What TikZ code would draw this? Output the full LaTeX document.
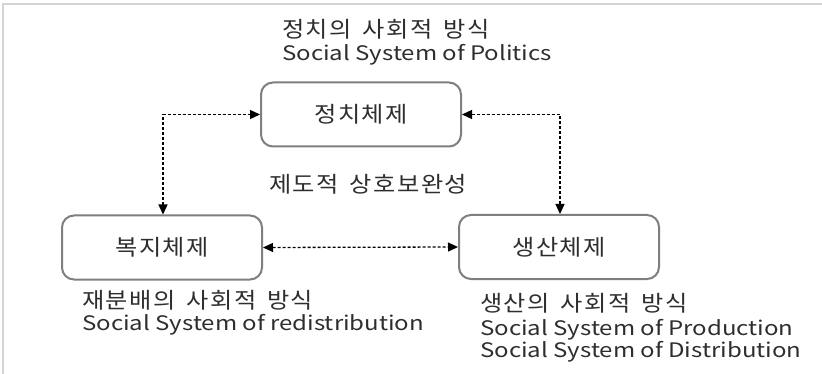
\documentclass[tikz,border=0pt]{standalone}
\usepackage{fontspec}
\usepackage{graphicx}
\setmainfont{Noto Sans CJK KR}
\newfontfamily\kr[LetterSpace=6,WordSpace=1.6]{Noto Sans CJK KR}
\newcommand{\widetext}[1]{\scalebox{1.2}[1]{#1}}
\newcommand{\krtext}[1]{\scalebox{1.1}[1]{#1}}
\usetikzlibrary{arrows.meta}
\definecolor{txt}{HTML}{2E2E2E}
\definecolor{boxline}{HTML}{7F7F7F}
\definecolor{frameline}{HTML}{D4D4D4}
\tikzset{
  sysbox/.style={draw=boxline, line width=2pt, rounded corners=12pt, minimum width=200pt, minimum height=64pt, inner sep=0pt, text=txt, font=\kr\fontsize{22pt}{24pt}\selectfont},
  lbl/.style={anchor=base west, inner sep=0pt, text=txt, font=\fontsize{20pt}{24pt}\selectfont},
  krlbl/.style={lbl, font=\kr\fontsize{22pt}{24pt}\selectfont},
  link/.style={densely dashed, line width=1.3pt, black, {Triangle[length=10pt,width=9pt]}-{Triangle[length=10pt,width=9pt]}}
}
\begin{document}
\begin{tikzpicture}[x=1pt,y=-1pt]
\useasboundingbox (0,0) rectangle (822,374);
\fill[white] (0,0) rectangle (822,374);
\draw[frameline, line width=1.5pt] (3,374) -- (3,4) -- (822,4);
\node[sysbox] (pol) at (361,114.5) {\krtext{정치체제}};
\node[sysbox] (wel) at (162,247.5) {\krtext{복지체제}};
\node[sysbox] (pro) at (559,247) {\krtext{생산체제}};
\coordinate (cl) at (163,114.5);
\coordinate (cr) at (560,114.5);
\draw[link] (wel.north -| cl) -- (cl) -- (pol.west);
\draw[link] (pol.east) -- (cr) -- (pro.north -| cr);
\draw[link] (wel.east) -- (pro.west);
\node[krlbl] (t1) at (282,38) {\krtext{정치의 사회적 방식}};
\node[lbl] (t2) at (282,61) {\widetext{Social System of Politics}};
\node[krlbl] (t3) at (269,193) {\krtext{제도적 상호보완성}};
\node[krlbl] (t4) at (82,308) {\krtext{재분배의 사회적 방식}};
\node[lbl] (t5) at (82,330) {\widetext{Social System of redistribution}};
\node[krlbl] (t6) at (480,311) {\krtext{생산의 사회적 방식}};
\node[lbl] (t7) at (480,335) {\widetext{Social System of Production}};
\node[lbl] (t8) at (480,357) {\widetext{Social System of Distribution}};
\end{tikzpicture}
\end{document}
